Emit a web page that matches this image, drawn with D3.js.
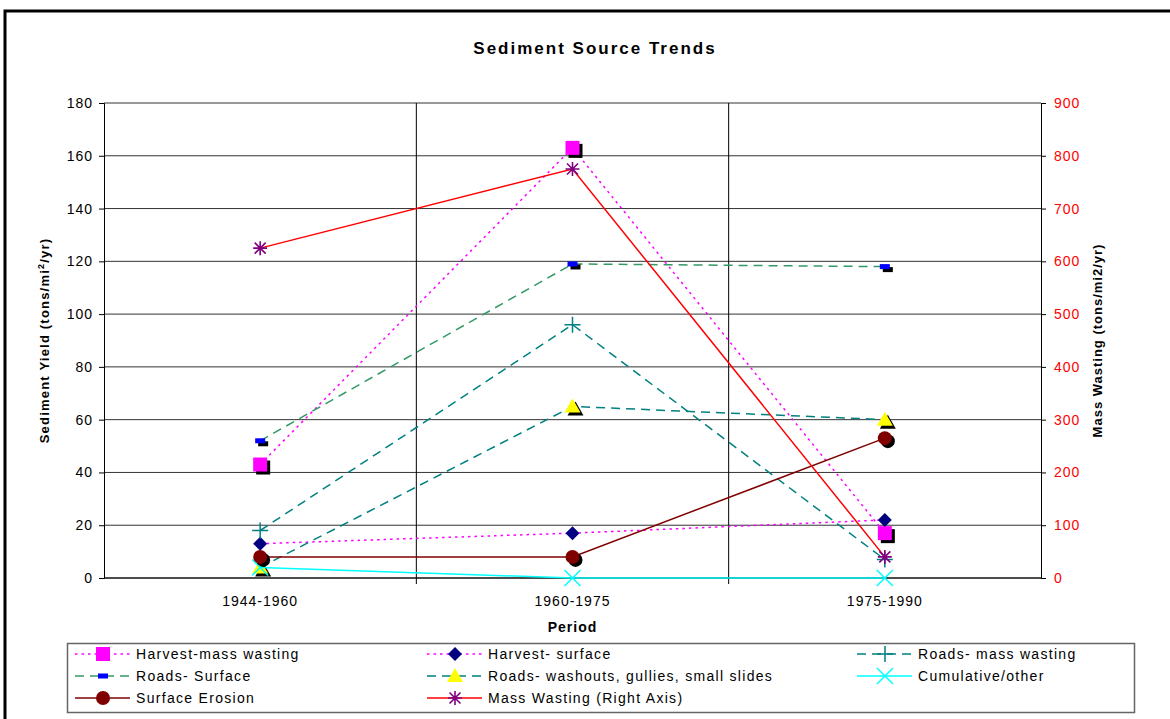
<!DOCTYPE html>
<html><head><meta charset="utf-8">
<script src="https://cdn.jsdelivr.net/npm/d3@7"></script>
<style>body{margin:0;background:#fff}svg{display:block;font-family:"Liberation Sans",Arial,sans-serif}</style>
</head><body><svg id="c" width="1170" height="719"></svg>
<script>
const categories = ["1944-1960","1960-1975","1975-1990"];
const harvestMass = [43,163,17];
const harvestSurface = [13,17,22];
const roadsMass = [18,96,7];
const roadsSurface = [52,119,118];
const roadsWashouts = [4,65,60];
const cumulative = [4,0,0];
const surfaceErosion = [8,8,53];
const massWastingRight = [625,775,40];
const leftTicks = [0,20,40,60,80,100,120,140,160,180];
const rightTicks = [0,100,200,300,400,500,600,700,800,900];

const series = [
  {name:"Harvest-mass wasting", values:harvestMass, axis:"L", color:"#FF00FF", dash:"2.5,4", width:1.5, marker:"square", mfill:"#FF00FF", shadow:true},
  {name:"Harvest- surface", values:harvestSurface, axis:"L", color:"#FF00FF", dash:"2.5,4", width:1.5, marker:"diamond", mfill:"#000080", shadow:false},
  {name:"Roads- mass wasting", values:roadsMass, axis:"L", color:"#008080", dash:"9,6", width:1.5, marker:"plus", mfill:"#008080", shadow:false},
  {name:"Roads- Surface", values:roadsSurface, axis:"L", color:"#339966", dash:"9,6", width:1.5, marker:"dash", mfill:"#0000FF", shadow:true},
  {name:"Roads- washouts, gullies, small slides", values:roadsWashouts, axis:"L", color:"#008080", dash:"9,6", width:1.5, marker:"triangle", mfill:"#FFFF00", shadow:true},
  {name:"Cumulative/other", values:cumulative, axis:"L", color:"#00FFFF", dash:null, width:1.5, marker:"x", mfill:"#00FFFF", shadow:false},
  {name:"Surface Erosion", values:surfaceErosion, axis:"L", color:"#800000", dash:null, width:1.5, marker:"circle", mfill:"#800000", shadow:true},
  {name:"Mass Wasting (Right Axis)", values:massWastingRight, axis:"R", color:"#FF0000", dash:null, width:1.5, marker:"star", mfill:"#800080", shadow:false}
];

const svg = d3.select("#c");
const L=104, R=1041, T=103, B=578;
const x = d3.scaleBand().domain(categories).range([L,R]);
const cx = c => x(c)+x.bandwidth()/2;
const y = d3.scaleLinear().domain([0,180]).range([B,T]);
const y2 = d3.scaleLinear().domain([0,900]).range([B,T]);
const FF = "Liberation Sans, Arial, sans-serif";

// outer border
svg.append("path").attr("d","M5,719 L5,11 L1172,11").attr("fill","none").attr("stroke","#000").attr("stroke-width",3);

// title
svg.append("text").attr("x",595).attr("y",54).attr("text-anchor","middle").attr("font-size",17).attr("font-weight","bold").attr("letter-spacing",2).text("Sediment Source Trends");

// horizontal gridlines
svg.append("g").selectAll("line").data(leftTicks).join("line")
  .attr("x1",L).attr("x2",R).attr("y1",d=>y(d)).attr("y2",d=>y(d)).attr("stroke","#333").attr("stroke-width",1);
// vertical gridlines at category boundaries
const bounds = categories.slice(1).map(c=>x(c));
svg.append("g").selectAll("line").data(bounds).join("line")
  .attr("x1",d=>d).attr("x2",d=>d).attr("y1",T).attr("y2",B+6).attr("stroke","#000").attr("stroke-width",1);

// left axis
const gl = svg.append("g").attr("transform",`translate(${L},0)`).call(d3.axisLeft(y).tickValues(leftTicks).tickSize(5).tickPadding(6));
gl.select(".domain").attr("stroke","#000");
gl.selectAll("text").attr("font-size",14).attr("letter-spacing",1).attr("font-family",FF).attr("fill","#000");
// right axis
const gr = svg.append("g").attr("transform",`translate(${R},0)`).call(d3.axisRight(y2).tickValues(rightTicks).tickSize(5).tickPadding(8));
gr.select(".domain").attr("stroke","#000");
gr.selectAll("text").attr("font-size",14).attr("letter-spacing",1).attr("font-family",FF).attr("fill","#FF0000");
// bottom axis
const gb = svg.append("g").attr("transform",`translate(0,${B})`).call(d3.axisBottom(x).tickSize(0).tickPadding(18));
gb.select(".domain").attr("stroke","#000").attr("d",`M${L},0H${R}`);
gb.selectAll("text").attr("font-size",14).attr("letter-spacing",1).attr("font-family",FF).attr("fill","#000");

// axis titles
svg.append("text").attr("transform",`translate(49,${(T+B)/2}) rotate(-90)`).attr("text-anchor","middle").attr("font-size",13).attr("font-weight","bold").attr("letter-spacing",1.2)
  .html('Sediment Yield (tons/mi<tspan baseline-shift="super" font-size="9">2</tspan>/yr)');
svg.append("text").attr("transform",`translate(1102,${(T+B)/2}) rotate(-90)`).attr("text-anchor","middle").attr("font-size",13).attr("font-weight","bold").attr("letter-spacing",1)
  .text("Mass Wasting (tons/mi2/yr)");
svg.append("text").attr("x",cx(categories[1])).attr("y",632).attr("text-anchor","middle").attr("font-size",14).attr("font-weight","bold").attr("letter-spacing",1).text("Period");

function drawMarker(g, s, px, py, withShadow){
  const m = s.marker;
  const sh = withShadow && s.shadow;
  const add = (fn, dx, dy, fill) => fn(g.append("g").attr("transform",`translate(${px+dx},${py+dy})`), fill);
  let shape;
  if(m==="square") shape=(gg,f)=>gg.append("rect").attr("x",-7).attr("y",-7).attr("width",14).attr("height",14).attr("fill",f);
  if(m==="diamond") shape=(gg,f)=>gg.append("path").attr("d","M0,-7L7,0L0,7L-7,0Z").attr("fill",f);
  if(m==="triangle") shape=(gg,f)=>gg.append("path").attr("d","M0,-8L8,6L-8,6Z").attr("fill",f);
  if(m==="circle") shape=(gg,f)=>gg.append("circle").attr("r",7).attr("fill",f);
  if(m==="dash") shape=(gg,f)=>gg.append("rect").attr("x",-5).attr("y",-2.5).attr("width",10).attr("height",5).attr("fill",f);
  if(m==="plus") shape=(gg,f)=>gg.append("path").attr("d","M-8,0H8M0,-8V8").attr("stroke",f).attr("stroke-width",1.5);
  if(m==="x") shape=(gg,f)=>gg.append("path").attr("d","M-8,-8L8,8M-8,8L8,-8").attr("stroke",f).attr("stroke-width",1.5);
  if(m==="star") shape=(gg,f)=>gg.append("path").attr("d","M-7,0H7M0,-7V7M-5.5,-5.5L5.5,5.5M-5.5,5.5L5.5,-5.5").attr("stroke",f).attr("stroke-width",1.6);
  if(sh) add(shape,3,3,"#000");
  add(shape,0,0,s.mfill);
}

// series
series.forEach(s=>{
  const sc = s.axis==="L"?y:y2;
  const pts = s.values.map((v,i)=>[cx(categories[i]), sc(v)]);
  const g = svg.append("g");
  g.append("path").attr("d",d3.line()(pts)).attr("fill","none").attr("stroke",s.color).attr("stroke-width",s.width).attr("stroke-dasharray",s.dash);
  pts.forEach(p=>drawMarker(g,s,p[0],p[1],true));
});

// legend
svg.append("rect").attr("x",67.5).attr("y",643.5).attr("width",1067).attr("height",69).attr("fill","none").attr("stroke","#666").attr("stroke-width",1.5);
const colX=[75,427,857], rowY=[654,676,698];
series.forEach((s,i)=>{
  const lx=colX[i%3], ly=rowY[Math.floor(i/3)];
  const g=svg.append("g");
  g.append("line").attr("x1",lx).attr("x2",lx+55).attr("y1",ly).attr("y2",ly).attr("stroke",s.color).attr("stroke-width",s.width).attr("stroke-dasharray",s.dash);
  drawMarker(g,s,lx+28,ly,false);
  g.append("text").attr("x",lx+61).attr("y",ly+5).attr("font-size",14).attr("letter-spacing",1.3).text(s.name);
});
</script></body></html>
